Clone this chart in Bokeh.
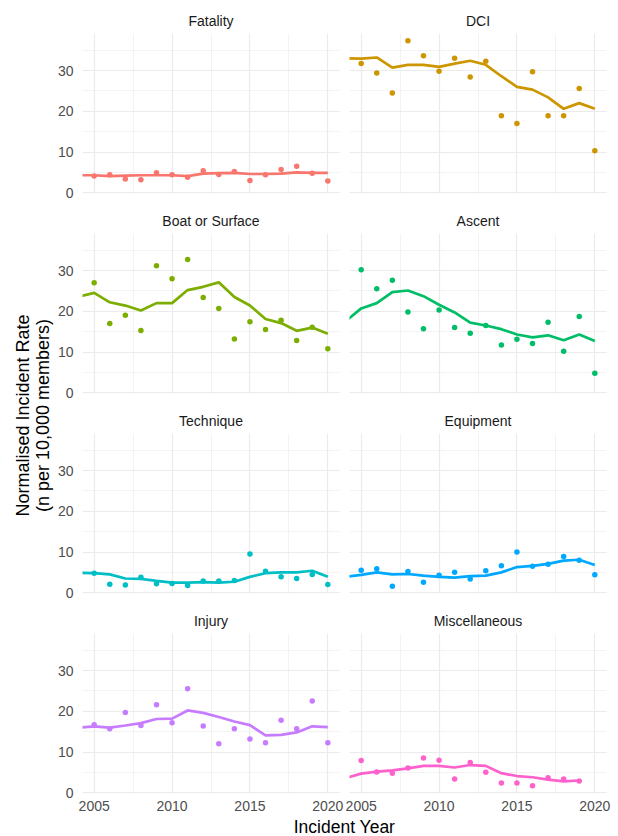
import math

from bokeh.embed import file_html
from bokeh.layouts import column, row
from bokeh.models import Grid, Label, LinearAxis, Range1d, SingleIntervalTicker, BasicTickFormatter
from bokeh.plotting import figure
from bokeh.resources import INLINE

# ---- data: normalised incident rate (n per 10,000 members) ----
years = list(range(2005, 2021))
trend_years = list(range(2004, 2021))

categories = ["Fatality", "DCI", "Boat or Surface", "Ascent",
              "Technique", "Equipment", "Injury", "Miscellaneous"]
colors = ["#F8766D", "#CD9600", "#7CAE00", "#00BE67",
          "#00BFC4", "#00A9FF", "#C77CFF", "#FF61CC"]

fatality = [4.1, 4.4, 3.4, 3.2, 4.9, 4.4, 3.8, 5.4, 4.5, 5.2, 3.0, 4.4, 5.7, 6.5, 4.8, 2.9]
fatality_trend = [4.3, 4.3, 4.1, 4.2, 4.3, 4.3, 4.3, 4.1, 4.7, 4.8, 4.9, 4.6, 4.6, 4.7, 5.0, 4.9, 4.9]

dci = [31.7, 29.4, 24.5, 37.3, 33.6, 29.8, 33.0, 28.4, 32.3, 18.9, 17.0, 29.7, 18.9, 18.9, 25.6, 10.3]
dci_trend = [33.0, 32.9, 33.2, 30.7, 31.4, 31.4, 30.9, 31.7, 32.4, 31.4, 28.6, 26.0, 25.3, 23.4, 20.6, 22.0, 20.6]

boat = [27.0, 17.0, 19.0, 15.3, 31.2, 28.0, 32.7, 23.4, 20.7, 13.2, 17.4, 15.5, 17.8, 12.8, 16.1, 10.8]
boat_trend = [23.6, 24.5, 22.2, 21.4, 20.2, 22.0, 22.0, 25.2, 26.0, 27.1, 23.5, 21.4, 18.1, 17.1, 15.2, 16.0, 14.5]

ascent = [30.2, 25.5, 27.6, 19.8, 15.7, 20.3, 16.0, 14.6, 16.5, 11.7, 13.1, 12.1, 17.3, 10.2, 18.7, 4.8]
ascent_trend = [17.5, 20.7, 22.0, 24.7, 25.1, 23.7, 21.6, 19.7, 17.2, 16.5, 15.6, 14.3, 13.6, 14.1, 12.9, 14.3, 12.7]

technique = [4.8, 2.1, 1.9, 3.8, 2.2, 2.3, 1.8, 2.9, 2.9, 3.0, 9.5, 5.3, 3.9, 3.5, 4.5, 2.0]
technique_trend = [4.9, 4.8, 4.5, 3.5, 3.4, 2.9, 2.5, 2.5, 2.6, 2.5, 2.7, 3.9, 4.8, 5.0, 5.0, 5.4, 3.9]

equipment = [5.5, 5.9, 1.6, 5.2, 2.6, 4.3, 5.0, 3.4, 5.4, 6.6, 10.0, 6.5, 7.0, 8.9, 8.0, 4.4]
equipment_trend = [3.9, 4.4, 5.0, 4.5, 4.6, 4.2, 3.9, 3.7, 4.1, 4.2, 5.0, 6.3, 6.6, 7.1, 7.9, 8.1, 6.8]

injury = [16.7, 15.7, 19.7, 16.5, 21.6, 17.2, 25.5, 16.4, 12.0, 15.7, 13.2, 12.3, 17.8, 15.7, 22.5, 12.3]
injury_trend = [16.0, 16.3, 16.0, 16.5, 17.1, 18.1, 18.2, 20.2, 19.6, 18.6, 17.5, 16.6, 14.1, 14.2, 14.8, 16.3, 16.1]

misc_years = list(range(2005, 2020))
misc_trend_years = list(range(2004, 2020))
misc = [7.9, 5.1, 4.8, 6.1, 8.5, 8.0, 3.4, 7.4, 5.0, 2.4, 2.4, 1.7, 3.7, 3.4, 2.9]
misc_trend = [3.6, 4.7, 5.2, 5.5, 6.0, 6.6, 6.6, 6.2, 6.8, 6.6, 4.8, 4.1, 3.8, 3.2, 2.8, 3.0]

panels = [
    (years, fatality, trend_years, fatality_trend),
    (years, dci, trend_years, dci_trend),
    (years, boat, trend_years, boat_trend),
    (years, ascent, trend_years, ascent_trend),
    (years, technique, trend_years, technique_trend),
    (years, equipment, trend_years, equipment_trend),
    (years, injury, trend_years, injury_trend),
    (misc_years, misc, misc_trend_years, misc_trend),
]

# shared scales with 5% padding, as in a faceted plot with fixed scales
all_vals = [v for p in panels for v in p[1]]
vmin, vmax = min(all_vals), max(all_vals)
ypad = 0.05 * (vmax - vmin)
Y_LO, Y_HI = vmin - ypad, vmax + ypad
xpad = 0.05 * (max(years) - min(years))
X_LO, X_HI = min(years) - xpad, max(years) + xpad

FONT = "Liberation Sans"
GRID = "#EBEBEB"


def style_axis(ax, standoff):
    ax.axis_line_color = None
    ax.major_tick_line_color = None
    ax.minor_tick_line_color = None
    ax.major_tick_out = 0
    ax.major_tick_in = 0
    ax.minor_tick_out = 0
    ax.minor_tick_in = 0
    ax.major_label_standoff = standoff
    ax.major_label_text_font = FONT
    ax.major_label_text_font_size = "14px"
    ax.major_label_text_color = "#4D4D4D"


def panel(idx):
    col = idx % 2
    rowi = idx // 2
    last_row = rowi == 3
    xs, ys, txs, tys = panels[idx]
    p = figure(
        frame_width=257, frame_height=160,
        x_range=Range1d(X_LO, X_HI), y_range=Range1d(Y_LO, Y_HI),
        x_axis_type=None, y_axis_type=None,
        output_backend="svg", toolbar_location=None,
        title=categories[idx],
        min_border_left=28 if col == 0 else 5,
        min_border_right=5 if col == 0 else 12,
        min_border_top=33,
        min_border_bottom=23 if last_row else 7,
    )
    p.outline_line_color = None
    p.background_fill_color = "white"
    p.border_fill_color = "white"
    p.title.align = "center"
    p.title.text_font = FONT
    p.title.text_font_size = "14px"
    p.title.text_font_style = "normal"
    p.title.text_color = "#1A1A1A"
    p.title.standoff = 10

    xt = SingleIntervalTicker(interval=5, num_minor_ticks=2)
    yt = SingleIntervalTicker(interval=10, num_minor_ticks=2)
    for dim, tk in ((0, xt), (1, yt)):
        g = Grid(dimension=dim, ticker=tk)
        g.grid_line_color = GRID
        g.grid_line_width = 1.2
        g.minor_grid_line_color = GRID
        g.minor_grid_line_width = 0.6
        p.add_layout(g)

    if col == 0:
        ya = LinearAxis(ticker=yt)
        style_axis(ya, standoff=9)
        p.add_layout(ya, "left")
    if last_row:
        xa = LinearAxis(ticker=xt, formatter=BasicTickFormatter(use_scientific=False))
        style_axis(xa, standoff=7)
        p.add_layout(xa, "below")

    p.line(txs, tys, line_color=colors[idx], line_width=2.7)
    p.scatter(xs, ys, size=5.5, fill_color=colors[idx], line_color=None)
    return p


figs = [panel(i) for i in range(8)]

# shared y-axis title (two lines, reading bottom to top)
ylab = figure(width=54, height=816, x_range=Range1d(0, 54), y_range=Range1d(0, 816),
              x_axis_type=None, y_axis_type=None, output_backend="svg",
              toolbar_location=None, min_border=0)
ylab.outline_line_color = None
for xpos, txt in ((22, "Normalised Incident Rate"), (42.5, "(n per 10,000 members)")):
    ylab.add_layout(Label(x=xpos, y=401, text=txt, angle=math.pi / 2,
                          text_align="center", text_baseline="middle",
                          text_font=FONT, text_font_size="18px", text_color="black"))

# shared x-axis title
xlab = figure(width=618, height=20, x_range=Range1d(0, 618), y_range=Range1d(0, 20),
              x_axis_type=None, y_axis_type=None, output_backend="svg",
              toolbar_location=None, min_border=0)
xlab.outline_line_color = None
xlab.add_layout(Label(x=344, y=10, text="Incident Year", text_align="center",
                      text_baseline="middle", text_font=FONT,
                      text_font_size="17.5px", text_color="black"))

grid_rows = [row(figs[2 * r], figs[2 * r + 1]) for r in range(4)]
layout = column(row(ylab, column(*grid_rows)), xlab)

open("out.html", "w").write(file_html(layout, INLINE))
